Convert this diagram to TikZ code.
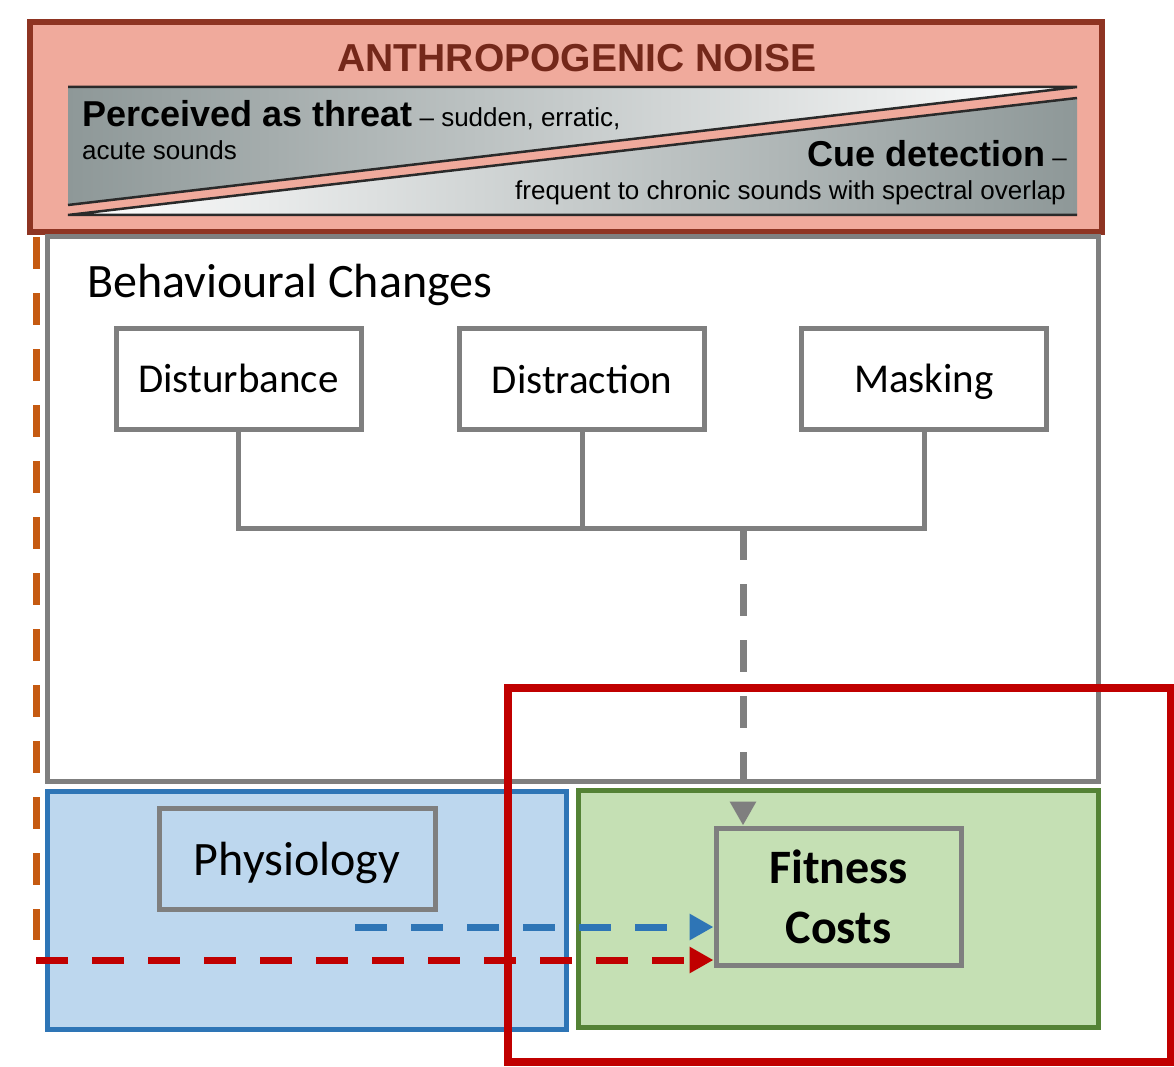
\documentclass[tikz,border=0pt]{standalone}
\usepackage{fontspec}
\setmainfont{Carlito}
\newfontfamily\bannerfont{Liberation Sans}
\usetikzlibrary{arrows.meta}
\definecolor{boxgray}{HTML}{7F7F7F}
\definecolor{physfill}{HTML}{BDD7EE}
\definecolor{physline}{HTML}{2E75B6}
\definecolor{fitfill}{HTML}{C5E0B4}
\definecolor{fitline}{HTML}{548235}
\definecolor{costred}{HTML}{C00000}
\definecolor{noiseorange}{HTML}{C55A11}
\definecolor{bannerfill}{HTML}{F0AA9C}
\definecolor{bannerline}{HTML}{8E3422}
\definecolor{bannertitle}{HTML}{74281A}
\definecolor{panelgray}{HTML}{8E9898}
\definecolor{paneledge}{HTML}{2A2A2A}

\begin{document}
\begin{tikzpicture}[x=1pt,y=-1pt]
    \tikzstyle{region}=[line width=5pt,inner sep=0pt]
    \tikzstyle{smallbox}=[draw=boxgray,line width=5pt,inner sep=0pt,minimum width=245pt,minimum height=101pt,text height=30pt,text depth=2pt,font=\fontsize{41}{48}\selectfont]
    \tikzstyle{tree}=[draw=boxgray,line width=5pt]
    \tikzstyle{flow}=[line width=7pt,dash pattern=on 32pt off 24pt,-{Triangle[length=24pt,width=25pt]}]
    \useasboundingbox (0,0) rectangle (1174,1067);

    \node[region,line width=6pt,draw=bannerline,fill=bannerfill,minimum width=1072pt,minimum height=210pt] (noise) at (566,127) {};
    \shade[left color=panelgray,right color=white] (68,87) -- (1077,87) -- (68,205) -- cycle;
    \shade[left color=white,right color=panelgray] (1077,98) -- (1077,215) -- (68,215) -- cycle;
    \draw[paneledge,line width=2.5pt] (68,87) -- (1077,87) -- (68,205);
    \draw[paneledge,line width=2.5pt] (1077,98) -- (68,215) -- (1077,215);
    \node[font=\bannerfont\bfseries\fontsize{39}{44}\selectfont,text=bannertitle] (title) at (577,58) {ANTHROPOGENIC NOISE};
    \node[anchor=base west,inner sep=0pt,font=\bannerfont] (threat) at (82,127) {{\fontsize{36}{40}\selectfont\bfseries Perceived as threat}{\fontsize{26}{30}\selectfont\ – sudden, erratic,}};
    \node[anchor=base west,inner sep=0pt,font=\bannerfont\fontsize{26}{30}\selectfont] (acute) at (82,160) {acute sounds};
    \node[anchor=base east,inner sep=0pt,font=\bannerfont] (cue) at (1067,167) {{\fontsize{36}{40}\selectfont\bfseries Cue detection}{\fontsize{26}{30}\selectfont\ –}};
    \node[anchor=base east,inner sep=0pt,font=\bannerfont\fontsize{26}{30}\selectfont] (chronic) at (1066,200) {frequent to chronic sounds with spectral overlap};

    \node[region,draw=boxgray,minimum width=1051pt,minimum height=544pt] (behav) at (572.5,509) {};
    \node[anchor=base west,inner sep=0pt,font=\fontsize{48}{56}\selectfont] (behavtitle) at (87,297) {Behavioural Changes};
    \node[smallbox] (disturb) at (238.5,378.5) {Disturbance};
    \node[smallbox] (distract) at (582,379) {Distraction};
    \node[smallbox] (mask) at (924,378.5) {Masking};

    \node[region,draw=physline,fill=physfill,minimum width=519pt,minimum height=238pt] (physarea) at (306.5,910) {};
    \node[region,draw=fitline,fill=fitfill,minimum width=520pt,minimum height=237pt] (fitarea) at (838,908.5) {};
    \node[smallbox,minimum width=276pt,text height=36pt,text depth=3pt,font=\fontsize{48}{56}\selectfont] (physio) at (297,858.5) {Physiology};
    \node[smallbox,minimum height=137pt,text height=,text depth=,align=center,font=\fontsize{48}{60}\selectfont\bfseries] (fitness) at (838.5,896.5) {Fitness\\Costs};

    \coordinate (j) at (743,528);
    \draw[tree] (disturb.south) -- (disturb.south |- j) -- (mask.south |- j) -- (mask.south);
    \draw[tree] (distract.south) -- (distract.south |- j);
    \draw[flow,boxgray] (j) -- (j |- fitness.north);

    \coordinate (o0) at (36,237);
    \coordinate (o1) at (36,940);
    \coordinate (b0) at (355,927);
    \coordinate (r0) at (36,960);
    \draw[noiseorange,line width=7pt,dash pattern=on 32pt off 24pt] (o0) -- (o1);
    \draw[flow,physline] (b0) -- (b0 -| fitness.west);
    \draw[flow,costred] (r0) -- (r0 -| fitness.west);

    \node[draw=costred,line width=8pt,inner sep=0pt,minimum width=663pt,minimum height=374pt] (costframe) at (839.5,875) {};
\end{tikzpicture}
\end{document}
